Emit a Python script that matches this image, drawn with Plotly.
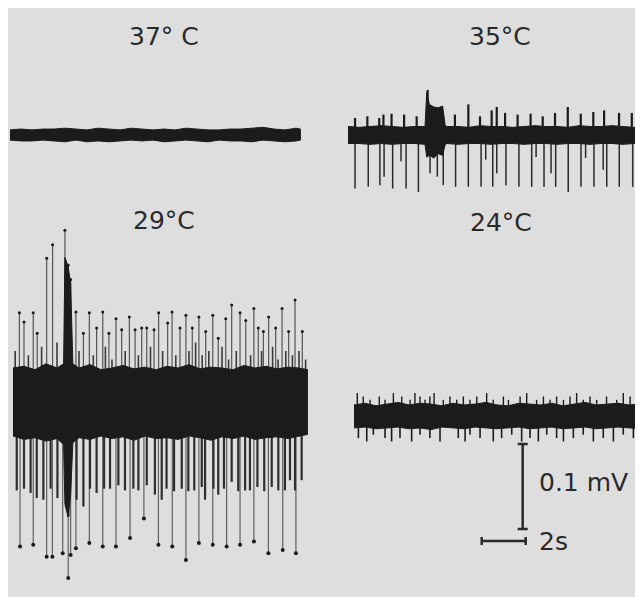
import plotly.graph_objects as go

# ---------------- data (time in s, voltage in mV, relative to trace baseline) ----------------
TITLES = ["37° C", "35°C", "29°C", "24°C"]
SCALE_MV = 0.1
SCALE_S = 2.0
SCALE_MV_LABEL = "0.1 mV"
SCALE_S_LABEL = "2s"

# 37 °C : quiet trace
A_env_t = [0.0, 0.5, 1.0, 1.5, 2.0, 2.5, 3.0, 3.5, 4.0, 4.5, 5.0, 5.5, 6.0, 6.5, 7.0, 7.5, 8.0,
           8.5, 9.0, 9.5, 10.0, 10.5, 11.0, 11.5, 12.0, 12.5, 13.0, 13.2]
A_hi = [0.006, 0.007, 0.006, 0.007, 0.007, 0.008, 0.007, 0.006, 0.008, 0.007, 0.006, 0.008, 0.007, 0.006,
        0.007, 0.006, 0.008, 0.007, 0.006, 0.006, 0.007, 0.007, 0.008, 0.009, 0.007, 0.006, 0.008, 0.007]
A_lo = [-0.006, -0.007, -0.007, -0.006, -0.007, -0.008, -0.006, -0.008, -0.007, -0.008, -0.007, -0.006,
        -0.007, -0.006, -0.008, -0.007, -0.006, -0.007, -0.008, -0.006, -0.007, -0.007, -0.008, -0.006,
        -0.007, -0.008, -0.007, -0.006]

# 35 °C
B_env_t = [0.0, 0.5, 1.0, 1.5, 2.0, 2.5, 3.0, 3.5, 3.58, 3.7, 3.9, 4.1, 4.3, 4.42, 4.5, 5.0, 5.5, 6.0,
           6.5, 7.0, 7.5, 8.0, 8.5, 9.0, 9.5, 10.0, 10.5, 11.0, 11.5, 12.0, 12.5, 13.0, 13.4]
B_hi = [0.010, 0.009, 0.010, 0.011, 0.010, 0.009, 0.010, 0.010, 0.050, 0.036, 0.033, 0.032, 0.034, 0.011,
        0.010, 0.010, 0.009, 0.011, 0.010, 0.010, 0.009, 0.010, 0.011, 0.010, 0.010, 0.009, 0.011, 0.010,
        0.010, 0.011, 0.010, 0.009, 0.010]
B_lo = [-0.010, -0.010, -0.011, -0.010, -0.011, -0.010, -0.010, -0.011, -0.026, -0.024, -0.027, -0.022,
        -0.024, -0.011, -0.010, -0.011, -0.010, -0.010, -0.011, -0.010, -0.010, -0.011, -0.010, -0.010,
        -0.011, -0.010, -0.010, -0.011, -0.010, -0.010, -0.011, -0.010, -0.010]
B_up_t = [0.32, 0.88, 1.42, 1.61, 1.98, 2.55, 3.12, 3.62, 4.86, 5.47, 6.00, 6.53, 6.76, 7.14, 7.71,
          8.30, 8.85, 9.41, 9.99, 10.58, 11.15, 11.64, 12.32, 12.90, 13.35]
B_up_v = [0.020, 0.022, 0.020, 0.024, 0.025, 0.024, 0.022, 0.053, 0.024, 0.036, 0.022, 0.029, 0.033,
          0.026, 0.024, 0.025, 0.022, 0.026, 0.033, 0.025, 0.027, 0.029, 0.026, 0.026, 0.029]
B_dn_t = [0.32, 0.92, 1.45, 1.64, 2.03, 2.41, 2.64, 3.20, 3.73, 4.06, 4.33, 4.89, 5.47, 6.05, 6.26,
          6.58, 6.76, 7.18, 7.77, 8.35, 8.55, 8.91, 9.23, 9.44, 10.01, 10.59, 10.80, 11.18, 11.60,
          11.76, 12.33, 12.94, 13.09]
B_dn_v = [-0.063, -0.061, -0.059, -0.049, -0.063, -0.031, -0.063, -0.067, -0.045, -0.049, -0.059,
          -0.061, -0.061, -0.061, -0.029, -0.061, -0.045, -0.059, -0.061, -0.061, -0.026, -0.061,
          -0.045, -0.061, -0.067, -0.061, -0.027, -0.061, -0.041, -0.061, -0.061, -0.061, -0.029]

# 29 °C
C_env_t = [0.0, 0.5, 1.0, 1.5, 2.0, 2.3, 2.36, 2.5, 2.62, 2.72, 3.0, 3.5, 4.0, 4.5, 5.0, 5.5, 6.0, 6.5,
           7.0, 7.5, 8.0, 8.5, 9.0, 9.5, 10.0, 10.5, 11.0, 11.5, 12.0, 12.5, 13.0, 13.4]
C_hi = [0.040, 0.042, 0.038, 0.045, 0.040, 0.045, 0.170, 0.160, 0.140, 0.045, 0.040, 0.044, 0.038, 0.040,
        0.043, 0.039, 0.041, 0.038, 0.042, 0.040, 0.044, 0.039, 0.041, 0.040, 0.038, 0.043, 0.040, 0.042,
        0.039, 0.041, 0.040, 0.038]
C_lo = [-0.040, -0.044, -0.042, -0.046, -0.043, -0.050, -0.120, -0.135, -0.110, -0.048, -0.042, -0.044,
        -0.040, -0.043, -0.041, -0.045, -0.040, -0.043, -0.042, -0.044, -0.040, -0.042, -0.045, -0.041,
        -0.043, -0.040, -0.044, -0.042, -0.041, -0.043, -0.040, -0.038]
C_up_t = [0.29, 0.50, 0.92, 1.10, 1.53, 1.80, 2.36, 2.51, 2.62, 2.86, 3.20, 3.47, 3.80, 4.08, 4.36, 4.68,
          4.94, 5.29, 5.55, 5.85, 6.08, 6.41, 6.62, 7.03, 7.23, 7.59, 7.86, 8.15, 8.45, 8.76, 9.08, 9.33,
          9.67, 9.94, 10.32, 10.58, 10.95, 11.15, 11.38, 11.62, 11.94, 12.23, 12.53, 12.82, 13.15]
C_up_v = [0.105, 0.094, 0.105, 0.081, 0.169, 0.185, 0.202, 0.161, 0.144, 0.106, 0.081, 0.105, 0.087,
          0.106, 0.081, 0.098, 0.085, 0.100, 0.085, 0.087, 0.087, 0.085, 0.105, 0.093, 0.106, 0.087,
          0.102, 0.087, 0.100, 0.083, 0.102, 0.075, 0.098, 0.114, 0.105, 0.096, 0.110, 0.087, 0.083,
          0.100, 0.087, 0.110, 0.083, 0.120, 0.083]
C_mid_up_t = [0.10, 0.70, 1.30, 2.00, 3.00, 3.65, 4.20, 4.50, 5.10, 5.70, 6.25, 6.80, 7.40, 8.00, 8.30,
              8.60, 8.90, 9.50, 9.80, 10.15, 10.80, 11.30, 11.80, 12.05, 12.40, 12.70, 13.00, 13.30]
C_mid_up_v = [0.060, 0.055, 0.065, 0.070, 0.060, 0.055, 0.065, 0.050, 0.060, 0.055, 0.065, 0.060,
              0.055, 0.060, 0.070, 0.055, 0.060, 0.065, 0.050, 0.060, 0.055, 0.060, 0.065, 0.050,
              0.060, 0.055, 0.060, 0.050]
C_dn_t = [0.32, 0.92, 1.53, 1.79, 2.26, 2.51, 2.62, 2.86, 3.47, 4.08, 4.68, 5.32, 5.95, 6.61, 7.24,
          7.86, 8.45, 9.08, 9.71, 10.32, 10.95, 11.61, 12.26, 12.86]
C_dn_v = [-0.170, -0.168, -0.182, -0.182, -0.178, -0.207, -0.180, -0.172, -0.166, -0.170, -0.170,
          -0.160, -0.137, -0.168, -0.170, -0.186, -0.166, -0.168, -0.170, -0.168, -0.164, -0.178,
          -0.174, -0.178]
C_mid_dn_t = [0.17, 0.50, 0.80, 1.08, 1.38, 1.71, 2.02, 2.52, 2.89, 3.20, 3.50, 3.80, 4.14, 4.41, 4.79,
              5.09, 5.47, 5.70, 6.08, 6.45, 6.76, 6.98, 7.32, 7.67, 7.97, 8.24, 8.58, 8.73, 9.11, 9.33,
              9.59, 9.94, 10.24, 10.55, 10.77, 11.11, 11.42, 11.76, 12.06, 12.36, 12.59, 12.82, 13.12]
C_mid_dn_v = [-0.104, -0.102, -0.107, -0.113, -0.115, -0.102, -0.113, -0.135, -0.115, -0.123, -0.102,
              -0.107, -0.102, -0.102, -0.098, -0.104, -0.102, -0.104, -0.098, -0.109, -0.115, -0.102,
              -0.105, -0.102, -0.105, -0.104, -0.100, -0.115, -0.102, -0.109, -0.102, -0.094, -0.105,
              -0.104, -0.104, -0.100, -0.105, -0.100, -0.104, -0.104, -0.092, -0.104, -0.092]

# 24 °C
D_env_t = [0.0, 0.5, 1.0, 1.5, 2.0, 2.5, 3.0, 3.5, 4.0, 4.5, 5.0, 5.5, 6.0, 6.5, 7.0, 7.5, 8.0, 8.5,
           9.0, 9.5, 10.0, 10.5, 11.0, 11.5, 12.0, 12.5, 13.0, 13.14]
D_hi = [0.013, 0.015, 0.012, 0.014, 0.016, 0.013, 0.015, 0.014, 0.012, 0.015, 0.013, 0.014, 0.016, 0.013,
        0.012, 0.015, 0.014, 0.013, 0.015, 0.012, 0.014, 0.016, 0.013, 0.014, 0.015, 0.013, 0.014, 0.013]
D_lo = [-0.014, -0.013, -0.015, -0.014, -0.013, -0.015, -0.014, -0.016, -0.013, -0.014, -0.015, -0.013,
        -0.014, -0.015, -0.014, -0.013, -0.015, -0.014, -0.013, -0.015, -0.014, -0.013, -0.015, -0.014,
        -0.013, -0.014, -0.015, -0.014]
D_up_t = [0.15, 0.42, 0.73, 1.15, 1.41, 1.79, 2.17, 2.55, 2.77, 3.00, 3.23, 3.45, 3.64, 4.06, 4.36,
          4.67, 4.97, 5.27, 5.58, 6.03, 6.33, 6.79, 7.02, 7.55, 7.85, 8.30, 8.61, 8.91, 9.21, 9.52,
          9.82, 10.12, 10.42, 10.73, 11.03, 11.48, 11.94, 12.24, 12.55, 12.92]
D_up_v = [0.027, 0.023, 0.019, 0.023, 0.019, 0.027, 0.023, 0.019, 0.027, 0.023, 0.019, 0.023, 0.027,
          0.019, 0.023, 0.019, 0.023, 0.019, 0.023, 0.027, 0.019, 0.023, 0.019, 0.023, 0.027, 0.019,
          0.023, 0.019, 0.023, 0.019, 0.023, 0.027, 0.019, 0.023, 0.019, 0.023, 0.019, 0.027, 0.023,
          0.019]
D_dn_t = [0.20, 0.58, 0.88, 1.41, 1.71, 2.09, 2.62, 3.00, 3.45, 3.91, 4.74, 5.05, 5.27, 5.73, 6.33,
          6.71, 7.17, 7.62, 8.00, 8.38, 8.76, 9.21, 9.52, 9.97, 10.42, 10.88, 11.33, 11.79, 12.24,
          12.70, 13.08]
D_dn_v = [-0.026, -0.030, -0.022, -0.026, -0.030, -0.026, -0.030, -0.022, -0.026, -0.030, -0.026,
          -0.030, -0.022, -0.026, -0.030, -0.026, -0.022, -0.030, -0.026, -0.030, -0.022, -0.026,
          -0.030, -0.026, -0.022, -0.030, -0.026, -0.030, -0.022, -0.026, -0.030]

# ---------------- layout constants (pixels) ----------------
OFF = 8                     # page body margin: figure starts at (8, 8) in the window
W, H = 643 - OFF, 597 - OFF
PX_PER_S = 22.0
PX_PER_MV = 850.0
BG = "#dedede"
INK = "#1b1b1b"
TXT = "#2a2a2a"
FONT = "DejaVu Sans"


def fx(px):
    return (px - OFF) / W


def fy(py):
    return 1 - (py - OFF) / H


# panel geometry in window pixels: left, right, baseline y, half-height
PANELS = [(10, 301, 135, 70), (348, 643, 135, 80), (13, 308, 402, 185), (354, 643, 416, 140)]

fig = go.Figure()
layout_axes = {}
for i, (x0, x1, yc, hh) in enumerate(PANELS):
    n = "" if i == 0 else str(i + 1)
    layout_axes["xaxis" + n] = dict(domain=[max(0, fx(x0)), min(1, fx(x1))],
                                    range=[0, (min(x1, OFF + W) - x0) / PX_PER_S],
                                    visible=False, fixedrange=True, anchor="y" + n)
    layout_axes["yaxis" + n] = dict(domain=[fy(yc + hh), fy(yc - hh)],
                                    range=[-hh / PX_PER_MV, hh / PX_PER_MV],
                                    visible=False, fixedrange=True, anchor="x" + n)


def axref(i):
    n = "" if i == 0 else str(i + 1)
    return "x" + n, "y" + n


def band(i, t, hi, lo, color=INK):
    assert len(t) == len(hi) == len(lo)
    xa, ya = axref(i)
    fig.add_trace(go.Scatter(x=list(t) + list(t)[::-1], y=list(hi) + list(lo)[::-1], fill="toself",
                             fillcolor=color, line=dict(color=color, width=1), mode="lines",
                             hoverinfo="skip", xaxis=xa, yaxis=ya))


def spikes(i, t, v, color=INK, width=1.5, tips=False, tipsize=3):
    assert len(t) == len(v)
    xa, ya = axref(i)
    xs, ys = [], []
    for tt, vv in zip(t, v):
        xs += [tt, tt, None]
        ys += [0, vv, None]
    fig.add_trace(go.Scatter(x=xs, y=ys, mode="lines", line=dict(color=color, width=width),
                             hoverinfo="skip", xaxis=xa, yaxis=ya))
    if tips:
        fig.add_trace(go.Scatter(x=t, y=v, mode="markers", marker=dict(color=INK, size=tipsize),
                                 hoverinfo="skip", xaxis=xa, yaxis=ya))


# 37 °C
band(0, A_env_t, A_hi, A_lo)
# 35 °C
spikes(1, B_dn_t, B_dn_v, color="#2a2a2a", width=1.5)
spikes(1, B_up_t, B_up_v, color=INK, width=2.2)
band(1, B_env_t, B_hi, B_lo)
# 29 °C
spikes(2, C_up_t, C_up_v, color="#555555", width=1.2, tips=True, tipsize=3)
spikes(2, C_mid_up_t, C_mid_up_v, color="#3a3a3a", width=1.6)
spikes(2, C_dn_t, C_dn_v, color="#606060", width=1.2, tips=True, tipsize=4)
spikes(2, C_mid_dn_t, C_mid_dn_v, color="#2e2e2e", width=2.2)
band(2, C_env_t, C_hi, C_lo)
# 24 °C
spikes(3, D_up_t, D_up_v, color=INK, width=1.4)
spikes(3, D_dn_t, D_dn_v, color=INK, width=1.6)
band(3, D_env_t, D_hi, D_lo)

# scale bars in the 24 °C panel's axes
xa, ya = axref(3)
vb_t = (522.7 - 354) / PX_PER_S
vb_top = (416 - 444) / PX_PER_MV
cap_t = 5 / PX_PER_S
fig.add_trace(go.Scatter(
    x=[vb_t, vb_t, None, vb_t - cap_t, vb_t + cap_t, None, vb_t - cap_t, vb_t + cap_t],
    y=[vb_top, vb_top - SCALE_MV, None, vb_top, vb_top, None, vb_top - SCALE_MV, vb_top - SCALE_MV],
    mode="lines", line=dict(color=TXT, width=2.5), hoverinfo="skip", xaxis=xa, yaxis=ya))
hb_t0 = (481.7 - 354) / PX_PER_S
hb_y = (416 - 541) / PX_PER_MV
cap_v = 4 / PX_PER_MV
fig.add_trace(go.Scatter(
    x=[hb_t0, hb_t0 + SCALE_S, None, hb_t0, hb_t0, None, hb_t0 + SCALE_S, hb_t0 + SCALE_S],
    y=[hb_y, hb_y, None, hb_y - cap_v, hb_y + cap_v, None, hb_y - cap_v, hb_y + cap_v],
    mode="lines", line=dict(color=TXT, width=2.5), hoverinfo="skip", xaxis=xa, yaxis=ya))

# text
title_pos = [(164, 36), (500, 36), (164, 221), (501, 222)]
annotations = []
for txt, (px, py) in zip(TITLES, title_pos):
    annotations.append(dict(text=txt, x=fx(px), y=fy(py), xref="paper", yref="paper",
                            xanchor="center", yanchor="middle", showarrow=False,
                            font=dict(family=FONT, size=25, color=TXT)))
annotations.append(dict(text=SCALE_MV_LABEL, x=fx(537), y=fy(482), xref="paper", yref="paper",
                        xanchor="left", yanchor="middle", showarrow=False,
                        font=dict(family=FONT, size=25, color=TXT)))
annotations.append(dict(text=SCALE_S_LABEL, x=fx(537), y=fy(541), xref="paper", yref="paper",
                        xanchor="left", yanchor="middle", showarrow=False,
                        font=dict(family=FONT, size=25, color=TXT)))

fig.update_layout(width=W, height=H, margin=dict(l=0, r=0, t=0, b=0), paper_bgcolor=BG,
                  plot_bgcolor="rgba(0,0,0,0)", showlegend=False, annotations=annotations,
                  **layout_axes)
fig.write_html("out.html", config={"displayModeBar": False})
